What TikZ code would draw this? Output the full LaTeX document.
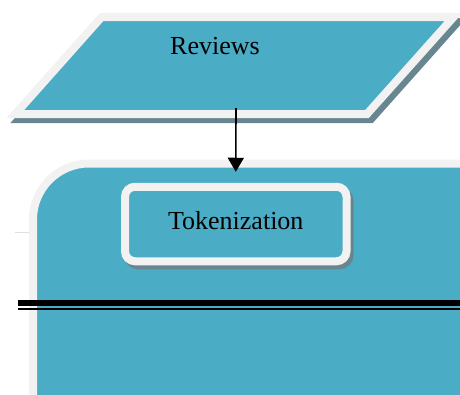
\documentclass[tikz,border=0pt]{standalone}
\usepackage{fontspec}
\setmainfont{Liberation Serif}
\usetikzlibrary{arrows.meta, calc}
\definecolor{boxblue}{RGB}{75,172,198}
\definecolor{rim}{RGB}{242,242,242}
\definecolor{shadowgray}{RGB}{104,134,144}

\begin{document}
\begin{tikzpicture}[x=1pt, y=-1pt, >={Triangle[length=14pt, width=16pt]},
	every node/.style={font=\fontsize{26}{30}\selectfont},
	rimline/.style={draw=rim, line width=8pt, fill=boxblue},
	shadowline/.style={draw=shadowgray, line width=8pt, fill=shadowgray},
	tokbox/.style={rimline, rounded corners=10pt, minimum width=221.5pt,
		minimum height=74.5pt, inner sep=0pt,
		preaction={shadowline, transform canvas={xshift=3pt, yshift=-4pt}}}]
	\useasboundingbox (0,0) rectangle (460,394);
	\clip (0,0) rectangle (460,394);
%	input
	\draw[shadowline, shift={(4,5)}]
	(101.6,17) -- (453.6,17) -- (367,114) -- (15.3,114) -- cycle;
	\draw[rimline] (101.6,17) -- (453.6,17) -- (367,114) -- (15.3,114) -- cycle;
	\node (rev) at (215,46) {Reviews};
	\coordinate (revout) at (236,108);
	
%	frame
	\draw[gray!25, line width=1pt] (15,232) -- (29,232);
	\draw[rimline, rounded corners=56pt] (33,163.5) rectangle (520,460);
	\node[tokbox] (tok) at (235.75,224) {\raisebox{7pt}{Tokenization}};
	\draw[->, line width=1.6pt, shorten >=11pt] (revout) -- (tok.north);
	
	\draw[line width=6pt] (18,303) -- (470,303);
	\draw[line width=2pt] (18,309) -- (470,309);
\end{tikzpicture}
\end{document}
